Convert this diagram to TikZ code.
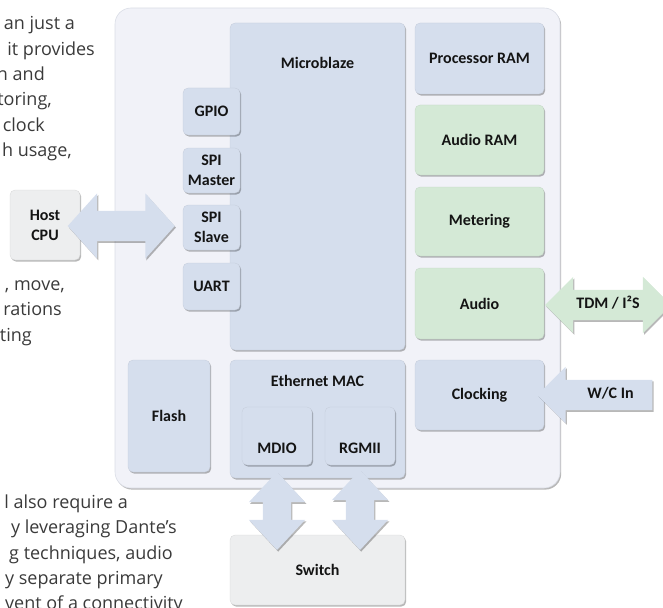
\documentclass[tikz,border=0pt]{standalone}
\usepackage{fontspec}
\setmainfont{Open Sans}
\newfontfamily\boxfont{Carlito}
\usetikzlibrary{calc,shapes.arrows,shadows}
\definecolor{chip}{HTML}{F1F2F8}
\definecolor{chipedge}{HTML}{DADDE6}
\definecolor{blk}{HTML}{D5DEED}
\definecolor{grn}{HTML}{D4E9D6}
\definecolor{ext}{HTML}{EDEEEF}
\definecolor{body}{HTML}{3A3A3A}
\definecolor{ink}{HTML}{141414}
\tikzset{
  shad/.style={drop shadow={shadow xshift=1.2pt, shadow yshift=-1.6pt, fill=black, opacity=0.28}},
  box/.style={shad, rounded corners=5pt, inner sep=0pt, text=ink, align=center,
    font=\boxfont\bfseries\fontsize{16}{20}\selectfont},
  bluebox/.style={box, fill=blk, draw=blk!92!black, line width=0.3pt},
  greenbox/.style={box, fill=grn, draw=grn!92!black, line width=0.3pt},
  extbox/.style={box, fill=ext, draw=ext!90!black, line width=0.3pt},
  lab/.style={text=ink, inner sep=0pt, font=\boxfont\bfseries\fontsize{16}{20}\selectfont},
  para/.style={text=body, inner sep=0pt, anchor=base east, font=\fontsize{18}{25}\selectfont},
  blockarr/.style={shad, inner xsep=0pt, text=ink, font=\boxfont\bfseries\fontsize{16}{20}\selectfont},
  textarr/.style={blockarr, text height=11pt, text depth=4pt, inner ysep=7.5pt},
  bararr/.style={blockarr, double arrow, fill=blk, inner sep=14pt},
}

\begin{document}
\begin{tikzpicture}[x=1pt,y=-1pt]
  \useasboundingbox (0,0) rectangle (663,607);
  \node[para] (p1) at (75,30) {an just a};
  \node[para] (p2) at (95,55.3) {it provides};
  \node[para] (p3) at (45,80.6) {n and};
  \node[para] (p4) at (52,106) {toring,};
  \node[para] (p5) at (45,131) {clock};
  \node[para] (p6) at (72,156.5) {h usage,};
  \node[para] (p7) at (65,290) {, move,};
  \node[para] (p8) at (62,315.5) {rations};
  \node[para] (p9) at (32,341) {ting};
  \node[para] (p10) at (128,508) {l also require a};
  \node[para] (p11) at (177,533.5) {y leveraging Dante’s};
  \node[para] (p12) at (173,559) {g techniques, audio};
  \node[para] (p13) at (163,584) {y separate primary};
  \node[para] (p14) at (183,609.5) {vent of a connectivity};

  \node[shad, rounded corners=16pt, fill=chip, draw=chipedge, line width=0.6pt,
    minimum width=445pt, minimum height=480pt] (chip) at (337.5,248) {};

  \node[bluebox, minimum width=175pt, minimum height=327pt] (mb) at (317.5,186.5) {};
  \node[lab] (mblab) at (317.5,63) {Microblaze};
  \node[bluebox, minimum width=57pt, minimum height=47pt] (gpio) at (211.5,111.5) {GPIO};
  \node[bluebox, minimum width=57pt, minimum height=45pt] (spim) at (211.5,170.5) {SPI\\Master};
  \node[bluebox, minimum width=57pt, minimum height=45pt] (spis) at (211.5,227.5) {SPI\\Slave};
  \node[bluebox, minimum width=57pt, minimum height=47pt] (uart) at (211.5,286.5) {UART};

  \node[bluebox, minimum width=129pt, minimum height=71pt] (pram) at (479.5,58.5) {Processor RAM};
  \node[greenbox, minimum width=129pt, minimum height=70pt] (aram) at (479.5,140) {Audio RAM};
  \node[greenbox, minimum width=129pt, minimum height=69pt] (meter) at (479.5,221.5) {Metering};
  \node[greenbox, minimum width=129pt, minimum height=71pt] (audio) at (479.5,303.5) {\raisebox{-3pt}{Audio}};
  \node[bluebox, minimum width=129pt, minimum height=70pt] (clk) at (479.5,395) {Clocking};

  \node[bluebox, minimum width=82pt, minimum height=112pt] (flash) at (169,416) {Flash};
  \node[bluebox, minimum width=175pt, minimum height=118pt] (mac) at (317.5,419) {};
  \node[lab] (maclab) at (317.5,381) {Ethernet MAC};
  \node[bluebox, minimum width=70pt, minimum height=58pt] (mdio) at (277,436) {};
  \node[lab] (mdiolab) at (mdio |- 0,448) {MDIO};
  \node[bluebox, minimum width=70pt, minimum height=58pt] (rgmii) at (360,436) {};
  \node[lab] (rgmiilab) at (rgmii |- 0,448) {RGMII};

  \node[extbox, minimum width=70pt, minimum height=70pt] (host) at (45,225) {\raisebox{-3pt}{Host}\\\raisebox{-3pt}{CPU}};
  \node[extbox, minimum width=175pt, minimum height=70pt] (switch) at (317.5,570) {Switch};

  \node[bararr, inner sep=15pt, minimum height=107pt,
    double arrow head extend=17.5pt, double arrow tip angle=96]
    (hostarr) at ($(host.east)!0.4!(spis.west)$) {};
  \node[textarr, double arrow, fill=grn, minimum height=126pt,
    double arrow head extend=13pt, double arrow tip angle=90]
    (tdm) at (608,305) {TDM / I²S};
  \node[textarr, single arrow, shape border rotate=180, fill=blk, minimum height=115pt,
    single arrow head extend=13pt, single arrow tip angle=90]
    (wc) at (602.5,395) {\hspace*{16pt}W/C In};
  \node[bararr, shape border rotate=90, minimum height=78pt,
    double arrow head extend=14pt, double arrow tip angle=86]
    (mdioarr) at (mdio |- 0,511) {};
  \node[bararr, shape border rotate=90, minimum height=80pt,
    double arrow head extend=14pt, double arrow tip angle=86]
    (rgmiiarr) at (rgmii |- 0,510) {};
\end{tikzpicture}
\end{document}
